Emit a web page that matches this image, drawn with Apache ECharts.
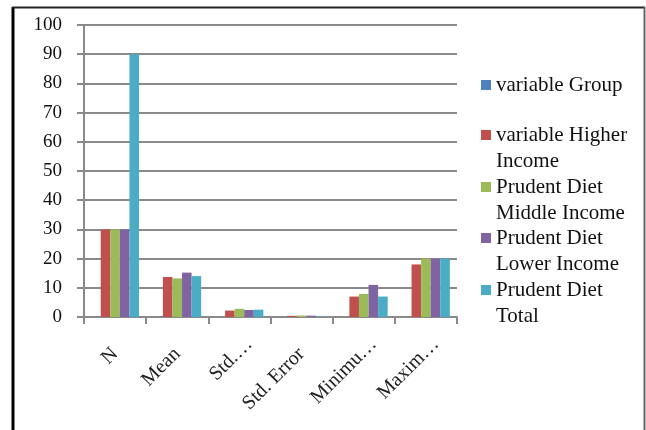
<!DOCTYPE html>
<html>
<head>
<meta charset="utf-8">
<script src="https://cdn.jsdelivr.net/npm/echarts@6/dist/echarts.min.js"></script>
<style>
  html, body { margin: 0; padding: 0; background: #fff; }
  #chart { width: 646px; height: 430px; }
</style>
</head>
<body>
<div id="chart"></div>
<script>
// data
const categories = ["N", "Mean", "Std.…", "Std. Error", "Minimu…", "Maxim…"];
const seriesNames = [
  "variable Group",
  "variable Higher Income",
  "Prudent Diet Middle Income",
  "Prudent Diet Lower Income",
  "Prudent Diet Total"
];
const legendLines = [
  "variable Group",
  "variable Higher\nIncome",
  "Prudent Diet\nMiddle Income",
  "Prudent Diet\nLower Income",
  "Prudent Diet\nTotal"
];
const variableGroup = [0, 0, 0, 0, 0, 0];
const higherIncome = [30, 13.7, 2.2, 0.4, 7.0, 18.0];
const middleIncome = [30, 13.2, 2.8, 0.5, 7.9, 20];
const lowerIncome = [30, 15.2, 2.4, 0.45, 11.0, 20];
const prudentTotal = [90, 14.0, 2.5, 0.2, 7.0, 20];

const COLORS = ["#4F81BD", "#C0504D", "#9BBB59", "#8064A2", "#4BACC6"];
const FONT = "Liberation Serif";
const GRID_COLOR = "#8a8a8a";

// nudge for the rotated labels (truncated ones sit further right in Excel)
const labelNudge = [0, 0, 14, 0, 14, 14];

const chart = echarts.init(document.getElementById("chart"));

const values = [variableGroup, higherIncome, middleIncome, lowerIncome, prudentTotal];
const legendTops = [72, 96, 148, 199, 251];

chart.setOption({
  animation: false,
  backgroundColor: "#fff",
  grid: { left: 84, right: 189, top: 25, bottom: 113 },
  // one legend per entry; a leading blank line keeps the marker on the first text line
  legend: seriesNames.map((name, i) => ({
    data: [name],
    left: 481,
    top: legendTops[i],
    padding: 0,
    icon: "rect",
    itemWidth: 10,
    itemHeight: 10,
    selectedMode: false,
    formatter: () => (legendLines[i].includes("\n") ? "\n" + legendLines[i] : legendLines[i]),
    textStyle: { fontFamily: FONT, fontSize: 21, color: "#111", lineHeight: 26 }
  })),
  xAxis: {
    type: "category",
    data: categories.map((c, i) => ({
      value: c,
      textStyle: { padding: [0, -labelNudge[i], 0, 0] }
    })),
    axisLine: { lineStyle: { color: GRID_COLOR, width: 2 } },
    axisTick: { show: true, length: 7, lineStyle: { color: GRID_COLOR, width: 2 } },
    axisLabel: {
      interval: 0,
      rotate: 45,
      margin: 34,
      fontFamily: FONT,
      fontSize: 20,
      color: "#222"
    },
    splitLine: { show: false }
  },
  yAxis: {
    type: "value",
    min: 0,
    max: 100,
    interval: 10,
    axisLine: { show: true, lineStyle: { color: GRID_COLOR, width: 2 } },
    axisTick: { show: true, length: 7, lineStyle: { color: GRID_COLOR, width: 2 } },
    axisLabel: { margin: 22, fontFamily: FONT, fontSize: 19, color: "#111" },
    splitLine: { lineStyle: { color: GRID_COLOR, width: 2 } }
  },
  series: seriesNames.map((name, i) => ({
    name,
    type: "bar",
    data: values[i],
    barGap: "0%",
    barCategoryGap: "23%",
    itemStyle: { color: COLORS[i] }
  })),
  graphic: [
    { type: "line", shape: { x1: 13, y1: 7, x2: 13, y2: 430 }, style: { stroke: "#000", lineWidth: 3 } },
    { type: "line", shape: { x1: 12, y1: 7.5, x2: 645, y2: 7.5 }, style: { stroke: "#222", lineWidth: 2 } },
    { type: "line", shape: { x1: 644.5, y1: 7, x2: 644.5, y2: 430 }, style: { stroke: "#666", lineWidth: 2 } }
  ]
});
</script>
</body>
</html>
